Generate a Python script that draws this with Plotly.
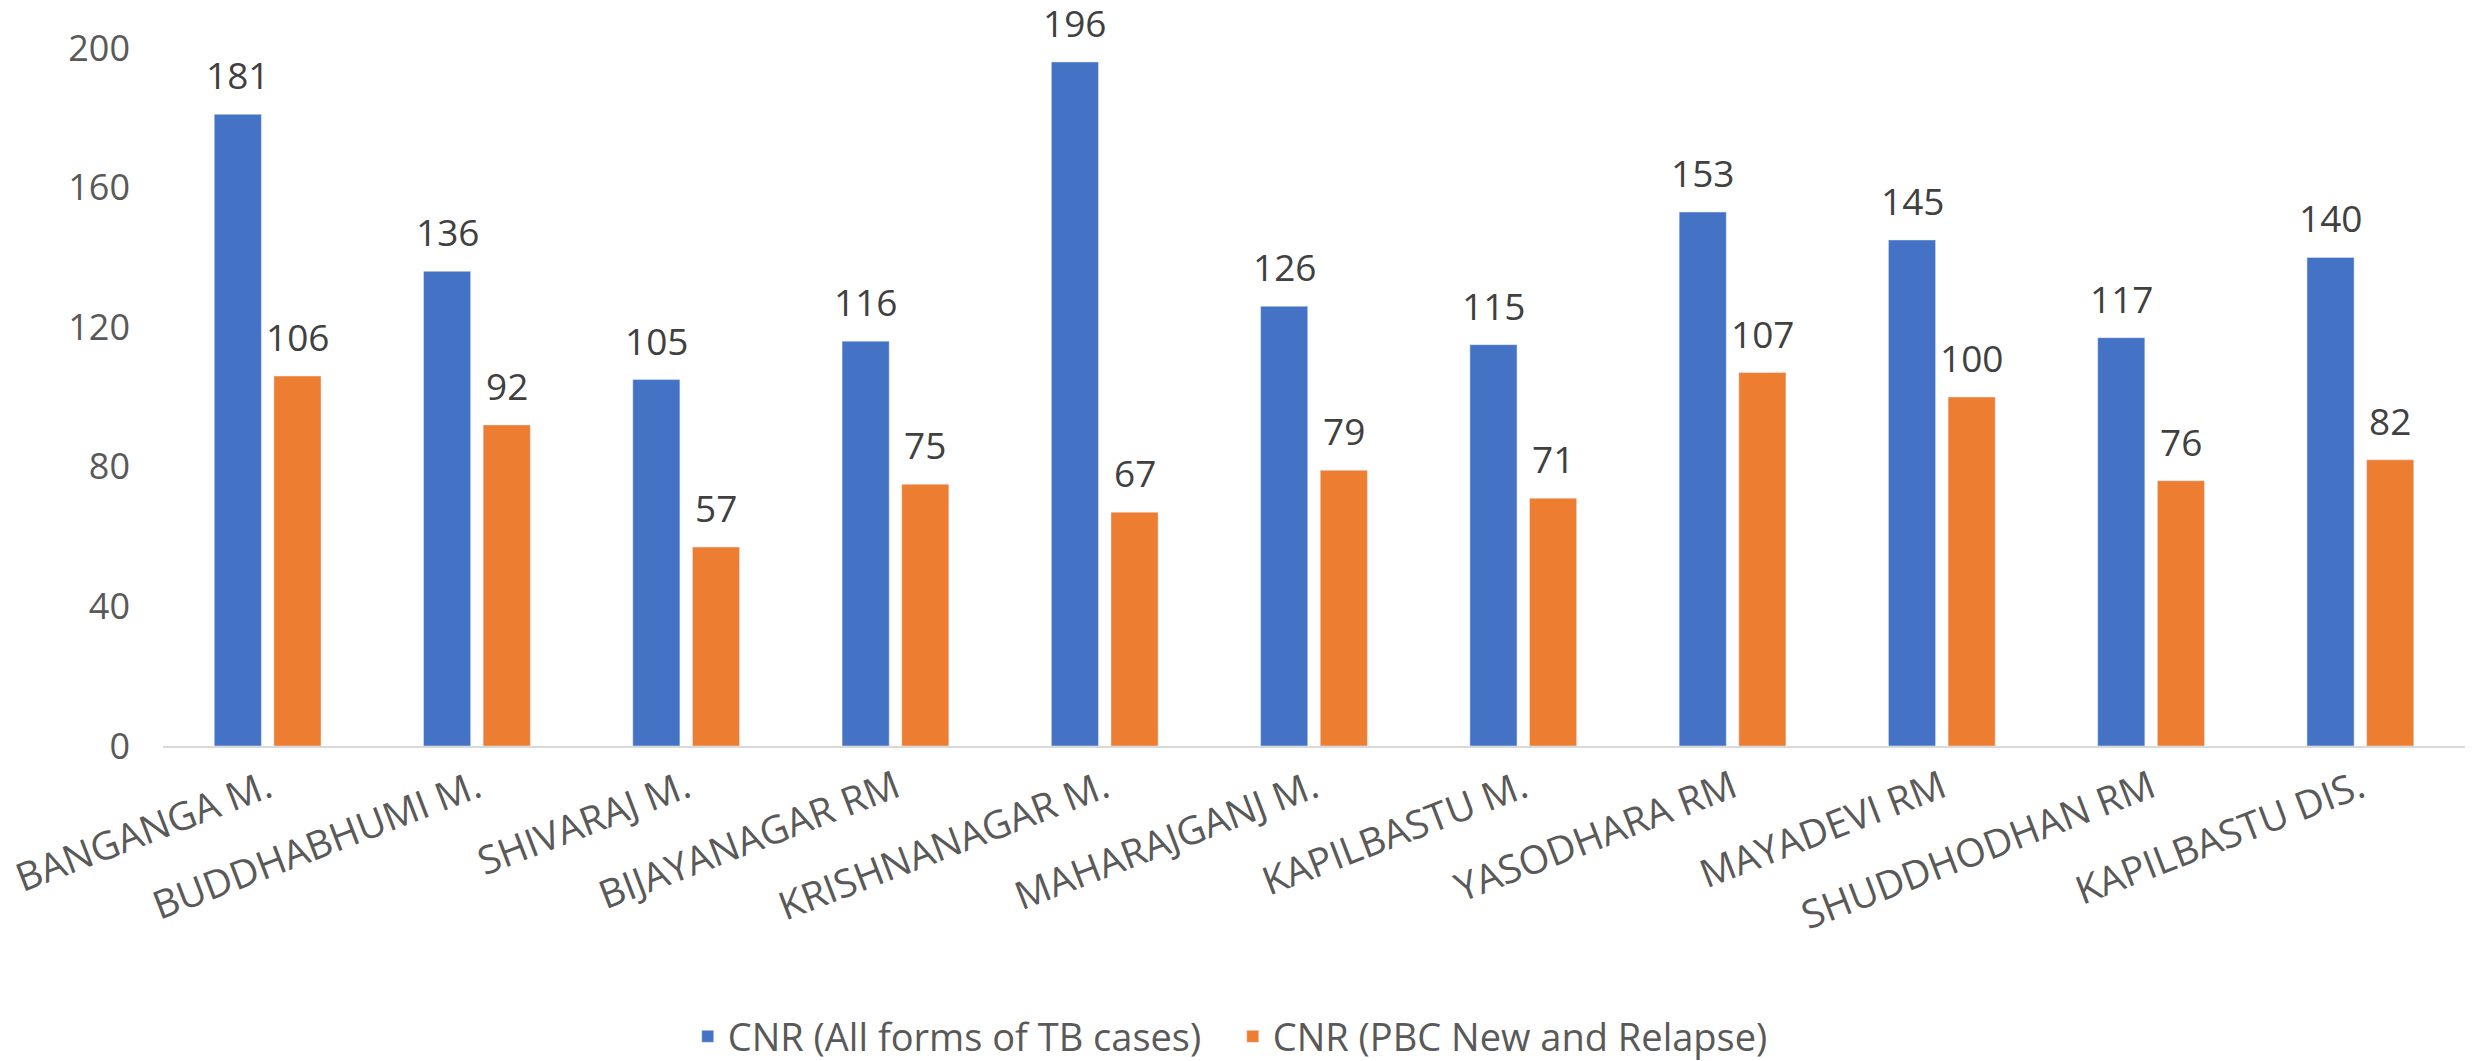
import plotly.graph_objects as go

categories = ["BANGANGA M.", "BUDDHABHUMI M.", "SHIVARAJ M.", "BIJAYANAGAR RM",
              "KRISHNANAGAR M.", "MAHARAJGANJ M.", "KAPILBASTU M.", "YASODHARA RM",
              "MAYADEVI RM", "SHUDDHODHAN RM", "KAPILBASTU DIS."]
cnr_all = [181, 136, 105, 116, 196, 126, 115, 153, 145, 117, 140]
cnr_pbc = [106, 92, 57, 75, 67, 79, 71, 107, 100, 76, 82]
series_names = ["CNR (All forms of TB cases)", "CNR (PBC New and Relapse)"]
y_ticks = [0, 40, 80, 120, 160, 200]

BLUE = "#4472C4"
ORANGE = "#ED7D31"
FONT = "Open Sans"

fig = go.Figure()
fig.add_trace(go.Bar(x=categories, y=cnr_all, name=series_names[0], marker_color=BLUE))
fig.add_trace(go.Bar(x=categories, y=cnr_pbc, name=series_names[1], marker_color=ORANGE))

# Data labels as annotations above each bar
bargap = 0.43
bargroupgap = 0.21
slot = (1 - bargap) / 2
for i, (a, b) in enumerate(zip(cnr_all, cnr_pbc)):
    for val, off in ((a, -slot / 2), (b, slot / 2)):
        fig.add_annotation(x=i + off, y=val, xref="x", yref="y", text=str(val),
                           showarrow=False, yanchor="bottom", yshift=12,
                           font=dict(family=FONT, size=37, color="#404040"))

fig.update_layout(
    width=2475, height=1061,
    margin=dict(l=163, r=10, t=48, b=315),
    paper_bgcolor="white", plot_bgcolor="white",
    barmode="group", bargap=bargap, bargroupgap=bargroupgap,
    font=dict(family=FONT, color="#595959"),
    showlegend=True,
    legend=dict(orientation="h", x=0.4647, xanchor="center",
                yref="container", y=0.023, yanchor="middle",
                font=dict(family=FONT, size=38, color="#595959"),
                itemwidth=30, tracegroupgap=0, entrywidth=500),
)
fig.update_xaxes(
    type="category", tickangle=-21, showgrid=False, ticks="", automargin=False,
    showline=True, linecolor="#D9D9D9", linewidth=2,
    tickfont=dict(family=FONT, size=39, color="#595959"),
    ticklabelstandoff=2,
)
fig.update_yaxes(
    range=[0, 200], tickvals=y_ticks, showgrid=False, zeroline=False, showline=False,
    automargin=False,
    tickfont=dict(family=FONT, size=36, color="#595959"),
    ticklabelstandoff=32,
)

fig.write_html("out.html", config={"displayModeBar": False},
               post_script="document.body.style.margin='0';document.body.style.overflow='hidden';")
